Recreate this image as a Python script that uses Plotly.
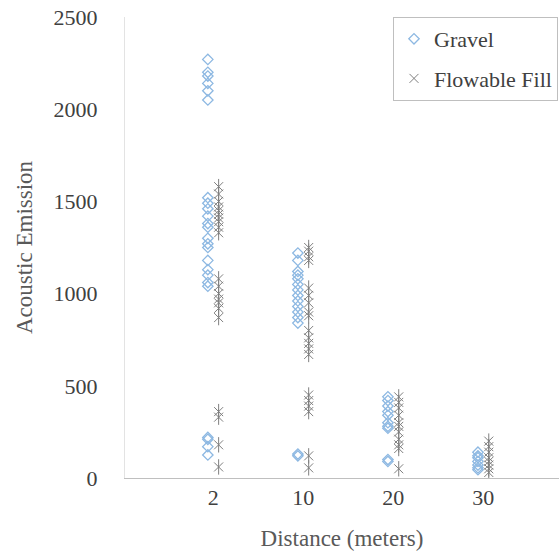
import plotly.graph_objects as go

categories = ["2", "10", "20", "30"]

gravel_2 = [2270, 2200, 2180, 2140, 2100, 2050, 1520, 1490, 1460, 1420, 1380, 1360,
            1300, 1270, 1250, 1180, 1130, 1100, 1060, 1040, 220, 210, 170, 125]
gravel_10 = [1220, 1180, 1120, 1100, 1080, 1050, 1020, 990, 960, 930, 900, 870, 840, 130, 120]
gravel_20 = [440, 420, 390, 360, 340, 300, 280, 270, 100, 90]
gravel_30 = [140, 120, 110, 90, 70, 55, 45]

fill_2 = [1580, 1540, 1500, 1470, 1450, 1430, 1410, 1390, 1360, 1330,
          1080, 1040, 1000, 970, 950, 920, 870, 360, 330, 180, 60]
fill_10 = [1250, 1230, 1200, 1180, 1030, 990, 950, 900, 880, 800, 760, 730, 700, 670,
           450, 420, 390, 360, 120, 55]
fill_20 = [440, 410, 380, 340, 300, 280, 250, 210, 180, 160, 50]
fill_30 = [200, 170, 140, 110, 90, 70, 50, 30]

gravel = [gravel_2, gravel_10, gravel_20, gravel_30]
fill = [fill_2, fill_10, fill_20, fill_30]

def expand(groups):
    xs, ys = [], []
    for c, vals in zip(categories, groups):
        xs += [c] * len(vals)
        ys += vals
    return xs, ys

gx, gy = expand(gravel)
fx, fy = expand(fill)

FONT = "Liberation Serif"

fig = go.Figure()
fig.add_trace(go.Scatter(
    x=gx, y=gy, mode="markers", name="Gravel",
    legendgroup="g", offsetgroup="g",
    marker=dict(symbol="diamond-open", size=8, color="#8DB8E2",
                line=dict(width=1.3, color="#8DB8E2")),
))
fig.add_trace(go.Scatter(
    x=fx, y=fy, mode="markers", name="Flowable Fill",
    legendgroup="f", offsetgroup="f",
    marker=dict(symbol="x-thin-open", size=9, color="#7F7F7F",
                line=dict(width=1, color="#7F7F7F")),
))
fig.add_trace(go.Scatter(
    x=fx, y=fy, mode="markers", name="Flowable Fill",
    legendgroup="f", offsetgroup="f", showlegend=False,
    marker=dict(symbol="line-ns-open", size=11, color="#7F7F7F",
                line=dict(width=1, color="#7F7F7F")),
))

fig.update_layout(
    width=559, height=551,
    margin=dict(l=125, r=0, t=17, b=73, autoexpand=False),
    paper_bgcolor="white", plot_bgcolor="white",
    font=dict(family=FONT, size=22, color="#404040"),
    scattermode="group", scattergap=0.76,
    showlegend=True,
    legend=dict(
        x=0.6175, y=1.0, xanchor="left", yanchor="top",
        bgcolor="white", bordercolor="#BFBFBF", borderwidth=1,
        font=dict(family=FONT, size=22, color="#404040"),
        tracegroupgap=8, traceorder="grouped",
    ),
    xaxis=dict(
        type="category", categoryorder="array", categoryarray=categories,
        range=[-0.98, 3.84], showgrid=False, zeroline=False,
        showline=True, linecolor="#BFBFBF", linewidth=1, automargin=False,
        ticks="", ticklabelstandoff=0,
        tickfont=dict(family=FONT, size=22, color="#404040"),
        title=dict(text="Distance (meters)", font=dict(family=FONT, size=23, color="#595959"),
                   standoff=22),
    ),
    yaxis=dict(
        range=[0, 2500], dtick=500, showgrid=False, zeroline=False,
        showline=True, linecolor="#E3E3E3", linewidth=1,
        ticks="", ticklabelstandoff=22, automargin=False,
        ticklabeloverflow="allow",
        tickfont=dict(family=FONT, size=22, color="#404040"),
        title=dict(text="Acoustic Emission", font=dict(family=FONT, size=23, color="#595959"),
                   standoff=14),
    ),
)

fig.write_html("out.html", config={"displayModeBar": False},
               post_script="document.body.style.margin='0';")
